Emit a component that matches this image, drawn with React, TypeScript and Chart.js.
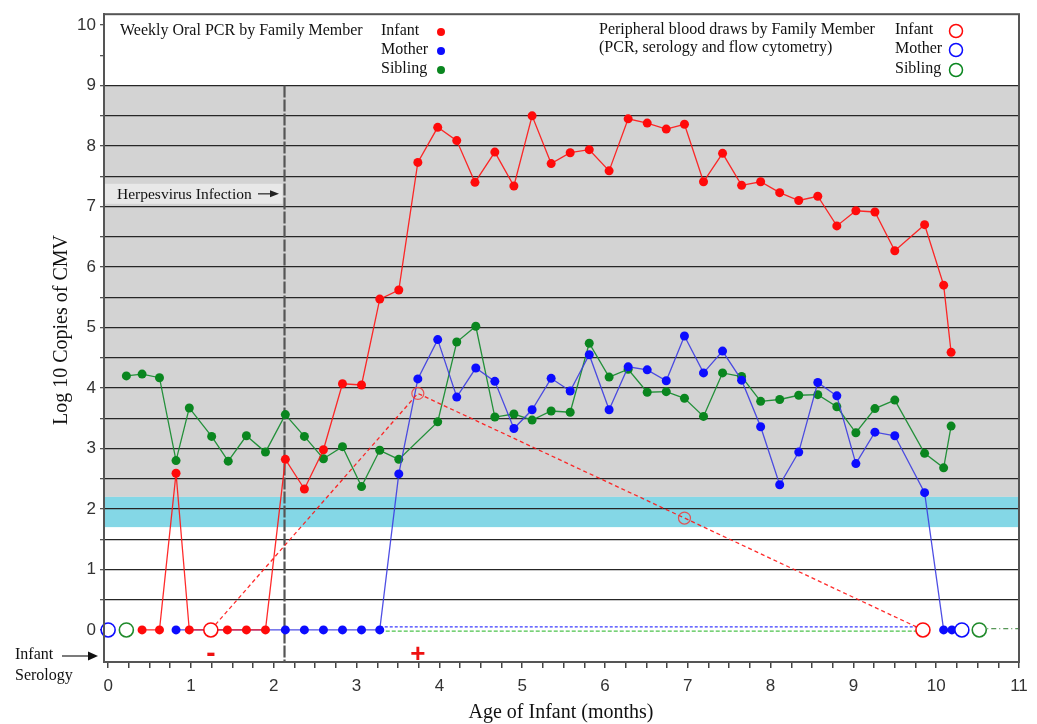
import React, { useEffect, useRef } from 'react';
import { Chart, registerables } from 'chart.js';

Chart.register(...registerables);

// ---- Weekly oral PCR (log10 copies of CMV) ----
const infantX = [0.41, 0.62, 0.82, 0.98, 1.44, 1.67, 1.90, 2.14, 2.37, 2.60, 2.83, 3.06, 3.28, 3.51, 3.74, 3.98, 4.21, 4.43, 4.67, 4.90, 5.12, 5.35, 5.58, 5.81, 6.05, 6.28, 6.51, 6.74, 6.96, 7.19, 7.42, 7.65, 7.88, 8.11, 8.34, 8.57, 8.80, 9.03, 9.26, 9.50, 9.86, 10.09, 10.18];
const infantY = [0, 0, 2.59, 0, 0, 0, 0, 2.82, 2.33, 2.98, 4.07, 4.05, 5.47, 5.62, 7.73, 8.31, 8.09, 7.40, 7.90, 7.34, 8.50, 7.71, 7.89, 7.94, 7.59, 8.45, 8.38, 8.28, 8.36, 7.41, 7.88, 7.35, 7.41, 7.23, 7.10, 7.17, 6.68, 6.93, 6.91, 6.27, 6.70, 5.70, 4.59];

const motherX = [0.82, 2.14, 2.37, 2.60, 2.83, 3.06, 3.28, 3.51, 3.74, 3.98, 4.21, 4.44, 4.67, 4.90, 5.12, 5.35, 5.58, 5.81, 6.05, 6.28, 6.51, 6.74, 6.96, 7.19, 7.42, 7.65, 7.88, 8.11, 8.34, 8.57, 8.80, 9.03, 9.26, 9.50, 9.86, 10.09, 10.19];
const motherY = [0, 0, 0, 0, 0, 0, 0, 2.58, 4.15, 4.80, 3.85, 4.33, 4.11, 3.33, 3.64, 4.16, 3.95, 4.55, 3.64, 4.35, 4.30, 4.12, 4.86, 4.25, 4.61, 4.13, 3.36, 2.40, 2.94, 4.09, 3.87, 2.75, 3.27, 3.21, 2.27, 0, 0];

const siblingX = [0.22, 0.41, 0.62, 0.82, 0.98, 1.25, 1.45, 1.67, 1.90, 2.14, 2.37, 2.60, 2.83, 3.06, 3.28, 3.51, 3.98, 4.21, 4.44, 4.67, 4.90, 5.12, 5.35, 5.58, 5.81, 6.05, 6.28, 6.51, 6.74, 6.96, 7.19, 7.42, 7.65, 7.88, 8.11, 8.34, 8.57, 8.80, 9.03, 9.26, 9.50, 9.86, 10.09, 10.18];
const siblingY = [4.20, 4.23, 4.17, 2.80, 3.67, 3.20, 2.79, 3.21, 2.94, 3.56, 3.20, 2.83, 3.03, 2.37, 2.97, 2.82, 3.44, 4.76, 5.02, 3.52, 3.57, 3.47, 3.62, 3.60, 4.74, 4.18, 4.31, 3.93, 3.94, 3.83, 3.53, 4.25, 4.19, 3.78, 3.81, 3.88, 3.89, 3.69, 3.26, 3.66, 3.80, 2.92, 2.68, 3.37];

// ---- Peripheral blood draws ----
const infantDrawX = [1.24, 3.74, 6.96, 9.84];
const infantDrawY = [0, 3.91, 1.85, 0];
const infantDrawRadius = [7, 6, 6, 7];
const motherDrawX = [0, 10.31];
const motherDrawY = [0, 0];
const siblingDrawX = [0.22, 10.52];
const siblingDrawY = [0, 0];

// connector lines along zero
const motherFollowX = [3.28, 9.76];
const motherFollowY = [0.05, 0.05];
const siblingFollowX = [3.28, 9.8];
const siblingFollowY = [-0.02, -0.02];
const siblingTailX = [10.52, 11];
const siblingTailY = [0.02, 0.02];

// ---- Infant serology ----
const serologyX = [1.24, 3.74];
const serologySigns = ['-', '+'];

// ---- Axes / annotations ----
const xLabels = ['0', '1', '2', '3', '4', '5', '6', '7', '8', '9', '10', '11'];
const yLabels = ['0', '1', '2', '3', '4', '5', '6', '7', '8', '9', '10'];
const grayBand = [2.2, 9];
const cyanBand = [1.7, 2.2];
const infectionX = 2.13;

const RED = '#ff0a0a';
const BLUE = '#0c0cff';
const GREEN = '#0a861f';

const pts = (xs: number[], ys: number[]) => xs.map((x, i) => ({ x, y: ys[i] }));

const SERIF = '"Liberation Serif", "Times New Roman", serif';
const SANS = '"Liberation Sans", Arial, sans-serif';

const overlayPlugin = {
  id: 'overlay',
  beforeDraw(chart: any) {
    const { ctx, chartArea: a, scales } = chart;
    const y = scales.y;
    ctx.save();
    ctx.fillStyle = '#ffffff';
    ctx.fillRect(0, 0, chart.width, chart.height);
    ctx.fillStyle = '#d3d3d3';
    const g1 = y.getPixelForValue(grayBand[1]);
    const g0 = y.getPixelForValue(grayBand[0]);
    ctx.fillRect(a.left, g1, a.right - a.left, g0 - g1);
    ctx.fillStyle = '#84d7e6';
    const c1 = y.getPixelForValue(cyanBand[1]);
    const c0 = y.getPixelForValue(cyanBand[0]);
    ctx.fillRect(a.left, c1, a.right - a.left, c0 - c1);
    ctx.restore();
  },
  beforeDatasetsDraw(chart: any) {
    const { ctx, chartArea: a, scales } = chart;
    const { x, y } = scales;
    ctx.save();
    // infection line
    const px = x.getPixelForValue(infectionX);
    ctx.strokeStyle = '#555';
    ctx.lineWidth = 2.2;
    ctx.setLineDash([12, 2]);
    ctx.beginPath();
    ctx.moveTo(px, y.getPixelForValue(9));
    ctx.lineTo(px, a.bottom);
    ctx.stroke();
    ctx.setLineDash([]);
    // label box
    const ly = y.getPixelForValue(7.21);
    ctx.fillStyle = '#e8e8e8';
    ctx.fillRect(a.left + 1, ly - 10, px - a.left - 3, 20);
    ctx.fillStyle = '#111';
    ctx.font = `15.5px ${SERIF}`;
    ctx.textBaseline = 'middle';
    ctx.textAlign = 'left';
    ctx.fillText('Herpesvirus Infection', 117, ly + 1);
    // arrow
    ctx.strokeStyle = '#222';
    ctx.lineWidth = 1.2;
    ctx.beginPath();
    ctx.moveTo(258, ly);
    ctx.lineTo(272, ly);
    ctx.stroke();
    ctx.fillStyle = '#222';
    ctx.beginPath();
    ctx.moveTo(279, ly);
    ctx.lineTo(270, ly - 3.5);
    ctx.lineTo(270, ly + 3.5);
    ctx.closePath();
    ctx.fill();
    ctx.restore();
  },
  afterDraw(chart: any) {
    const { ctx, chartArea: a, scales } = chart;
    const { x, y } = scales;
    ctx.save();
    // frame
    ctx.strokeStyle = '#555';
    ctx.lineWidth = 2;
    ctx.strokeRect(a.left, a.top, a.right - a.left, a.bottom - a.top);

    ctx.fillStyle = '#111';
    ctx.textBaseline = 'middle';
    ctx.textAlign = 'left';
    ctx.font = `16px ${SERIF}`;
    // left legend
    ctx.fillText('Weekly Oral PCR by Family Member', 120, 31);
    const names = ['Infant', 'Mother', 'Sibling'];
    const cols = [RED, BLUE, GREEN];
    const ys1 = [31, 50, 69];
    names.forEach((n, i) => {
      ctx.fillStyle = '#111';
      ctx.fillText(n, 381, ys1[i]);
      ctx.fillStyle = cols[i];
      ctx.beginPath();
      ctx.arc(441, ys1[i] + 1, 4, 0, Math.PI * 2);
      ctx.fill();
    });
    // right legend
    ctx.fillStyle = '#111';
    ctx.fillText('Peripheral blood draws by Family Member', 599, 30);
    ctx.fillText('(PCR, serology and flow cytometry)', 599, 48);
    const ys2 = [30, 49, 69];
    names.forEach((n, i) => {
      ctx.fillStyle = '#111';
      ctx.fillText(n, 895, ys2[i]);
      ctx.strokeStyle = cols[i];
      ctx.lineWidth = 1.5;
      ctx.beginPath();
      ctx.arc(956, ys2[i] + 1, 6.5, 0, Math.PI * 2);
      ctx.stroke();
    });

    // axis titles
    ctx.fillStyle = '#111';
    ctx.font = `20px ${SERIF}`;
    ctx.textAlign = 'center';
    ctx.fillText('Age of Infant (months)', 561, 713);
    ctx.save();
    ctx.translate(62, 330);
    ctx.rotate(-Math.PI / 2);
    ctx.fillText('Log 10 Copies of CMV', 0, 0);
    ctx.restore();

    // infant serology
    ctx.textAlign = 'left';
    ctx.font = `16px ${SERIF}`;
    ctx.fillStyle = '#111';
    ctx.fillText('Infant', 15, 655);
    ctx.fillText('Serology', 15, 676);
    ctx.strokeStyle = '#222';
    ctx.lineWidth = 1.2;
    ctx.beginPath();
    ctx.moveTo(62, 656);
    ctx.lineTo(90, 656);
    ctx.stroke();
    ctx.fillStyle = '#111';
    ctx.beginPath();
    ctx.moveTo(98, 656);
    ctx.lineTo(88, 651.5);
    ctx.lineTo(88, 660.5);
    ctx.closePath();
    ctx.fill();

    ctx.fillStyle = '#ee1111';
    ctx.textAlign = 'center';
    serologyX.forEach((sx, i) => {
      const px = x.getPixelForValue(sx);
      if (serologySigns[i] === '+') {
        ctx.font = `bold 26px ${SANS}`;
        ctx.fillText('+', px, 655);
      } else {
        ctx.font = `bold 28px ${SANS}`;
        ctx.fillText('-', px, 654);
      }
    });
    ctx.restore();
  },
};

export default function App() {
  const ref = useRef<HTMLCanvasElement | null>(null);

  useEffect(() => {
    if (!ref.current) return;
    const yTicks: number[] = [];
    for (let v = 0; v <= 10.001; v += 0.5) yTicks.push(Math.round(v * 2) / 2);
    const xTicks: number[] = [];
    for (let v = 0; v <= 11.001; v += 0.25) xTicks.push(Math.round(v * 4) / 4);

    const chart = new Chart(ref.current, {
      type: 'line',
      data: {
        datasets: [
          {
            label: 'Infant blood',
            data: pts(infantDrawX, infantDrawY),
            borderColor: 'rgba(255,20,20,0.9)',
            borderWidth: 1.3,
            borderDash: [4, 3],
            pointRadius: infantDrawRadius,
            pointBorderWidth: [1.6, 1.2, 1.2, 1.6],
            pointBorderColor: [RED, 'rgba(240,60,60,0.85)', 'rgba(240,60,60,0.85)', RED],
            pointBackgroundColor: ['#fff', 'rgba(0,0,0,0)', 'rgba(0,0,0,0)', '#fff'],
            clip: false,
          } as any,
          {
            label: 'Mother blood',
            data: pts(motherDrawX, motherDrawY),
            showLine: false,
            pointRadius: 7,
            pointBorderWidth: 1.6,
            pointBorderColor: BLUE,
            pointBackgroundColor: '#fff',
            clip: false,
          } as any,
          {
            label: 'Sibling blood',
            data: pts(siblingDrawX, siblingDrawY),
            showLine: false,
            pointRadius: 7,
            pointBorderWidth: 1.6,
            pointBorderColor: '#1f8a2a',
            pointBackgroundColor: '#fff',
            clip: false,
          } as any,
          {
            label: 'Infant',
            data: pts(infantX, infantY),
            borderColor: 'rgba(255,20,20,0.9)',
            borderWidth: 1.3,
            pointRadius: 4.5,
            pointBorderWidth: 0,
            pointBackgroundColor: RED,
          },
          {
            label: 'Mother',
            data: pts(motherX, motherY),
            borderColor: 'rgba(60,60,225,0.9)',
            borderWidth: 1.3,
            pointRadius: 4.5,
            pointBorderWidth: 0,
            pointBackgroundColor: BLUE,
          },
          {
            label: 'Sibling',
            data: pts(siblingX, siblingY),
            borderColor: 'rgba(25,140,50,0.95)',
            borderWidth: 1.3,
            pointRadius: 4.5,
            pointBorderWidth: 0,
            pointBackgroundColor: GREEN,
          },
          {
            label: 'Mother follow',
            data: pts(motherFollowX, motherFollowY),
            borderColor: '#3a3aff',
            borderWidth: 1.4,
            borderDash: [3, 2],
            pointRadius: 0,
          } as any,
          {
            label: 'Sibling follow',
            data: pts(siblingFollowX, siblingFollowY),
            borderColor: '#4cc24c',
            borderWidth: 1.4,
            borderDash: [4, 2],
            pointRadius: 0,
          } as any,
          {
            label: 'Sibling tail',
            data: pts(siblingTailX, siblingTailY),
            borderColor: '#2a7a2a',
            borderWidth: 1,
            borderDash: [5, 3, 1, 3],
            pointRadius: 0,
          } as any,
        ],
      },
      options: {
        animation: false,
        responsive: false,
        maintainAspectRatio: false,
        layout: { padding: { top: 13, right: 18, left: 0, bottom: 0 } },
        plugins: {
          legend: { display: false },
          tooltip: { enabled: false },
          title: { display: false },
        },
        elements: { line: { tension: 0 } },
        scales: {
          x: {
            type: 'linear',
            min: -0.05,
            max: 11,
            afterBuildTicks: (s: any) => {
              s.ticks = xTicks.map((v) => ({ value: v }));
            },
            afterFit: (s: any) => {
              s.height = 62;
            },
            ticks: {
              autoSkip: false,
              maxRotation: 0,
              padding: 8,
              color: '#333',
              font: { family: SANS, size: 17 },
              callback: (v: any) => {
                const n = Number(v);
                return Number.isInteger(n) ? xLabels[n] : '';
              },
            },
            grid: {
              drawOnChartArea: false,
              drawTicks: true,
              tickLength: 6,
              tickColor: '#444',
              lineWidth: 1.5,
            },
            border: { display: true, color: '#555', width: 2 },
          },
          y: {
            type: 'linear',
            min: -0.53,
            max: 10.18,
            afterBuildTicks: (s: any) => {
              s.ticks = yTicks.map((v) => ({ value: v }));
            },
            afterFit: (s: any) => {
              s.width = 104;
            },
            ticks: {
              autoSkip: false,
              padding: 4,
              color: '#333',
              font: { family: SANS, size: 17 },
              callback: (v: any) => {
                const n = Number(v);
                return Number.isInteger(n) ? yLabels[n] : '';
              },
            },
            grid: {
              drawTicks: true,
              tickLength: 4,
              tickColor: '#555',
              lineWidth: 1.3,
              color: (ctx: any) => {
                const v = ctx.tick ? ctx.tick.value : undefined;
                if (v === undefined) return 'rgba(0,0,0,0)';
                return v > 0.01 && v < 9.01 ? '#262626' : 'rgba(0,0,0,0)';
              },
            },
            border: { display: true, color: '#555', width: 2 },
          },
        },
      } as any,
      plugins: [overlayPlugin],
    });
    return () => chart.destroy();
  }, []);

  return (
    <div style={{ position: 'absolute', left: 0, top: 0, width: 1037, height: 724 }}>
      <canvas ref={ref} width={1037} height={724} style={{ display: 'block', width: 1037, height: 724 }} />
    </div>
  );
}
